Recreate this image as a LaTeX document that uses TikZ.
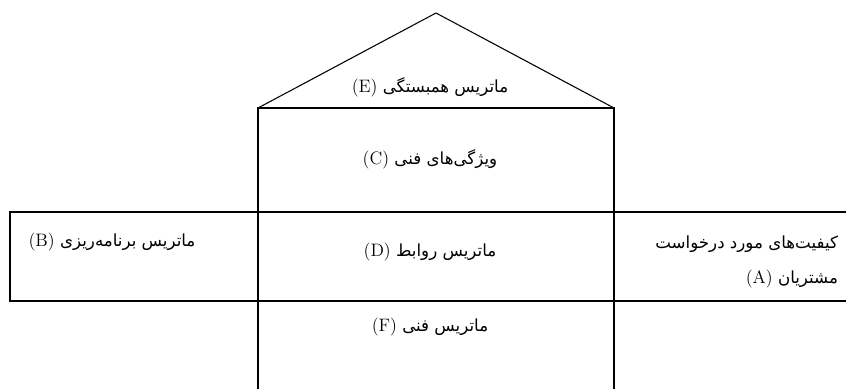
\documentclass[tikz,border=0pt]{standalone}
\usepackage{fontspec}
\newfontfamily\arabicfont[Script=Arabic]{DejaVu Sans}
\TeXXeTstate=1
\newcommand{\fatext}[2]{{\arabicfont\fontsize{12.5}{14}\selectfont\beginR #1 \beginL{\rmfamily\fontsize{13.5}{14}\selectfont(#2)}\endL\endR}}
\tikzset{
  lbl/.style={inner sep=0pt, outer sep=0pt},
  frame/.style={line width=1.2pt, line cap=rect},
  roofline/.style={line width=0.8pt, line join=miter}
}
\begin{document}
\begin{tikzpicture}[x=0.75pt, y=-0.75pt]
\useasboundingbox (0,0) rectangle (846,389);
% frame coordinates
\coordinate (apex) at (436,13);
\coordinate (rl) at (258,108);
\coordinate (rr) at (614,108);
\coordinate (cbl) at (258,389);
\coordinate (cbr) at (614,389);
\coordinate (bl1) at (10,212);
\coordinate (bl2) at (10,301);
\coordinate (br1) at (846,212);
\coordinate (br2) at (846,301);
% roof
\draw[roofline] (rl) -- (apex) -- (rr);
% column
\draw[frame] (cbl) -- (rl) -- (rr) -- (cbr);
% horizontal band
\draw[frame] (br1) -- (bl1) -- (bl2) -- (br2);
% labels
\node[lbl] (E) at (430,87) {\fatext{ماتریس همبستگی}{E}};
\node[lbl] (C) at (430,159) {\fatext{ویژگی‌های فنی}{C}};
\node[lbl] (D) at (430,252) {\fatext{ماتریس روابط}{D}};
\node[lbl] (F) at (430,327) {\fatext{ماتریس فنی}{F}};
\node[lbl] (B) at (112,242) {\fatext{ماتریس برنامه‌ریزی}{B}};
\node[lbl, align=right, anchor=east, font=\fontsize{12}{26.5}\selectfont] (A) at (838,262)
  {{\arabicfont\fontsize{12.5}{26.5}\selectfont\beginR کیفیت‌های مورد درخواست\endR}\\
   \fatext{مشتریان}{A}};
\end{tikzpicture}
\end{document}
